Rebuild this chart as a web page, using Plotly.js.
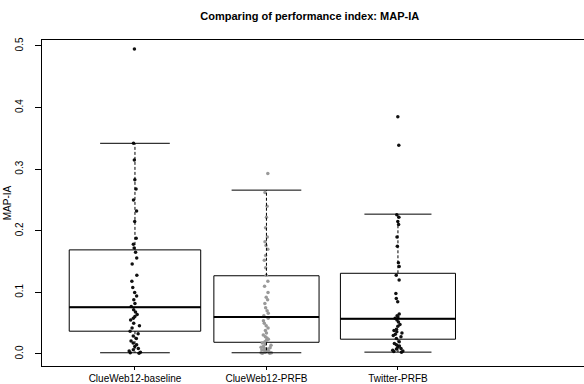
<!DOCTYPE html>
<html>
<head>
<meta charset="utf-8">
<script src="https://cdn.plot.ly/plotly-3.0.1.min.js"></script>
<style>html,body{margin:0;padding:0;background:#fff;}#chart{width:584px;height:384px;}</style>
</head>
<body>
<div id="chart"></div>
<script>
// ---- data ----
const categories = ["ClueWeb12-baseline", "ClueWeb12-PRFB", "Twitter-PRFB"];
const q1Vals  = [0.037, 0.019, 0.024];
const medVals = [0.076, 0.060, 0.057];
const q3Vals  = [0.169, 0.127, 0.131];
const loVals  = [0.002, 0.002, 0.003];
const hiVals  = [0.342, 0.266, 0.227];

const pointsBaseline = [0.495, 0.342, 0.315, 0.283, 0.268, 0.250, 0.232, 0.215, 0.188, 0.178, 0.172, 0.165,
  0.156, 0.146, 0.128, 0.118, 0.108, 0.100, 0.094, 0.088, 0.082, 0.077, 0.072, 0.068, 0.064, 0.061,
  0.058, 0.055, 0.050, 0.046, 0.042, 0.037, 0.033, 0.029, 0.025, 0.021, 0.018, 0.015, 0.012, 0.009,
  0.007, 0.005, 0.003, 0.002, 0.001];
const pointsCluePRFB = [0.293, 0.262, 0.240, 0.222, 0.205, 0.190, 0.182, 0.176, 0.170, 0.160, 0.152, 0.140,
  0.128, 0.118, 0.110, 0.100, 0.092, 0.088, 0.082, 0.075, 0.070, 0.066, 0.062, 0.058, 0.054, 0.050,
  0.046, 0.042, 0.038, 0.034, 0.031, 0.028, 0.026, 0.024, 0.022, 0.020, 0.018, 0.016, 0.014, 0.012,
  0.011, 0.010, 0.009, 0.008, 0.007, 0.006, 0.005, 0.004, 0.003, 0.003, 0.002, 0.002, 0.001, 0.001];
const pointsTwitter = [0.385, 0.339, 0.226, 0.222, 0.215, 0.210, 0.190, 0.175, 0.148, 0.142, 0.128, 0.120,
  0.098, 0.090, 0.085, 0.065, 0.062, 0.060, 0.058, 0.055, 0.052, 0.048, 0.045, 0.040, 0.038, 0.036,
  0.034, 0.032, 0.030, 0.028, 0.025, 0.020, 0.017, 0.015, 0.013, 0.011, 0.009, 0.008, 0.006, 0.005,
  0.004, 0.003];
const yTickVals = [0, 0.1, 0.2, 0.3, 0.4, 0.5];
const yTickText = ["0.0", "0.1", "0.2", "0.3", "0.4", "0.5"];

// ---- styles ----
const groupPoints = [pointsBaseline, pointsCluePRFB, pointsTwitter];
const boxWidths = [1.0, 0.80, 0.875];
const capWidths = [0.53, 0.53, 0.51];
const pointColors = ["#111", "#999", "#111"];
const FONT = "Liberation Sans, Arial, Helvetica, sans-serif";

const traces = [];
categories.forEach((c, i) => {
  const pos = i + 1;
  traces.push({type: "scatter", mode: "lines", hoverinfo: "skip", showlegend: false,
    x: [pos, pos, null, pos, pos], y: [q3Vals[i], hiVals[i], null, q1Vals[i], loVals[i]],
    line: {color: "#000", width: 1, dash: "3px,2px"}});
  const hw = capWidths[i] / 2;
  traces.push({type: "scatter", mode: "lines", hoverinfo: "skip", showlegend: false,
    x: [pos - hw, pos + hw, null, pos - hw, pos + hw], y: [hiVals[i], hiVals[i], null, loVals[i], loVals[i]],
    line: {color: "#000", width: 1}});
  traces.push({type: "box", x: [pos], q1: [q1Vals[i]], median: [medVals[i]], q3: [q3Vals[i]],
    lowerfence: [q1Vals[i]], upperfence: [q3Vals[i]], width: boxWidths[i], whiskerwidth: 0,
    fillcolor: "#fff", line: {color: "#000", width: 1}, boxpoints: false, showlegend: false, hoverinfo: "skip"});
  const bw = boxWidths[i] / 2;
  traces.push({type: "scatter", mode: "lines", hoverinfo: "skip", showlegend: false,
    x: [pos - bw, pos + bw], y: [medVals[i], medVals[i]], line: {color: "#000", width: 2}});
});
categories.forEach((c, i) => {
  const pos = i + 1;
  traces.push({type: "box", x0: pos, y: groupPoints[i], width: boxWidths[i], boxpoints: "all",
    jitter: 0.12, pointpos: 0, fillcolor: "rgba(0,0,0,0)", line: {color: "rgba(0,0,0,0)", width: 0},
    marker: {color: pointColors[i], size: 3.5}, showlegend: false, hoverinfo: "skip"});
});

const layout = {
  width: 584, height: 384,
  margin: {l: 42, r: 0, t: 40, b: 18},
  paper_bgcolor: "#fff", plot_bgcolor: "#fff",
  boxmode: "overlay",
  showlegend: false,
  font: {family: FONT, size: 10, color: "#000"},
  title: {text: "<b>Comparing of performance index: MAP-IA</b>", x: 0.494, xref: "paper", xanchor: "center",
    y: 1 - 16 / 384, yref: "container", yanchor: "middle", font: {family: FONT, size: 11, color: "#000"}},
  xaxis: {range: [0.293, 4.415], tickvals: [1, 2, 3], ticktext: categories, showgrid: false, zeroline: false,
    showline: true, mirror: true, linecolor: "#000", linewidth: 1, ticks: "outside", ticklen: 3,
    tickcolor: "#000", tickfont: {family: FONT, size: 10, color: "#000"}, automargin: false},
  yaxis: {range: [-0.0195, 0.5097], tickvals: yTickVals, ticktext: yTickText, tickangle: -90,
    showgrid: false, zeroline: false, showline: true, linecolor: "#000", linewidth: 1,
    ticks: "outside", ticklen: 6, tickcolor: "#000", ticklabelstandoff: 8,
    tickfont: {family: FONT, size: 10, color: "#000"},
    title: {text: "MAP-IA", font: {family: FONT, size: 10, color: "#000"}, standoff: 0}, automargin: false}
};

Plotly.newPlot("chart", traces, layout, {displayModeBar: false, staticPlot: true});
</script>
</body>
</html>
